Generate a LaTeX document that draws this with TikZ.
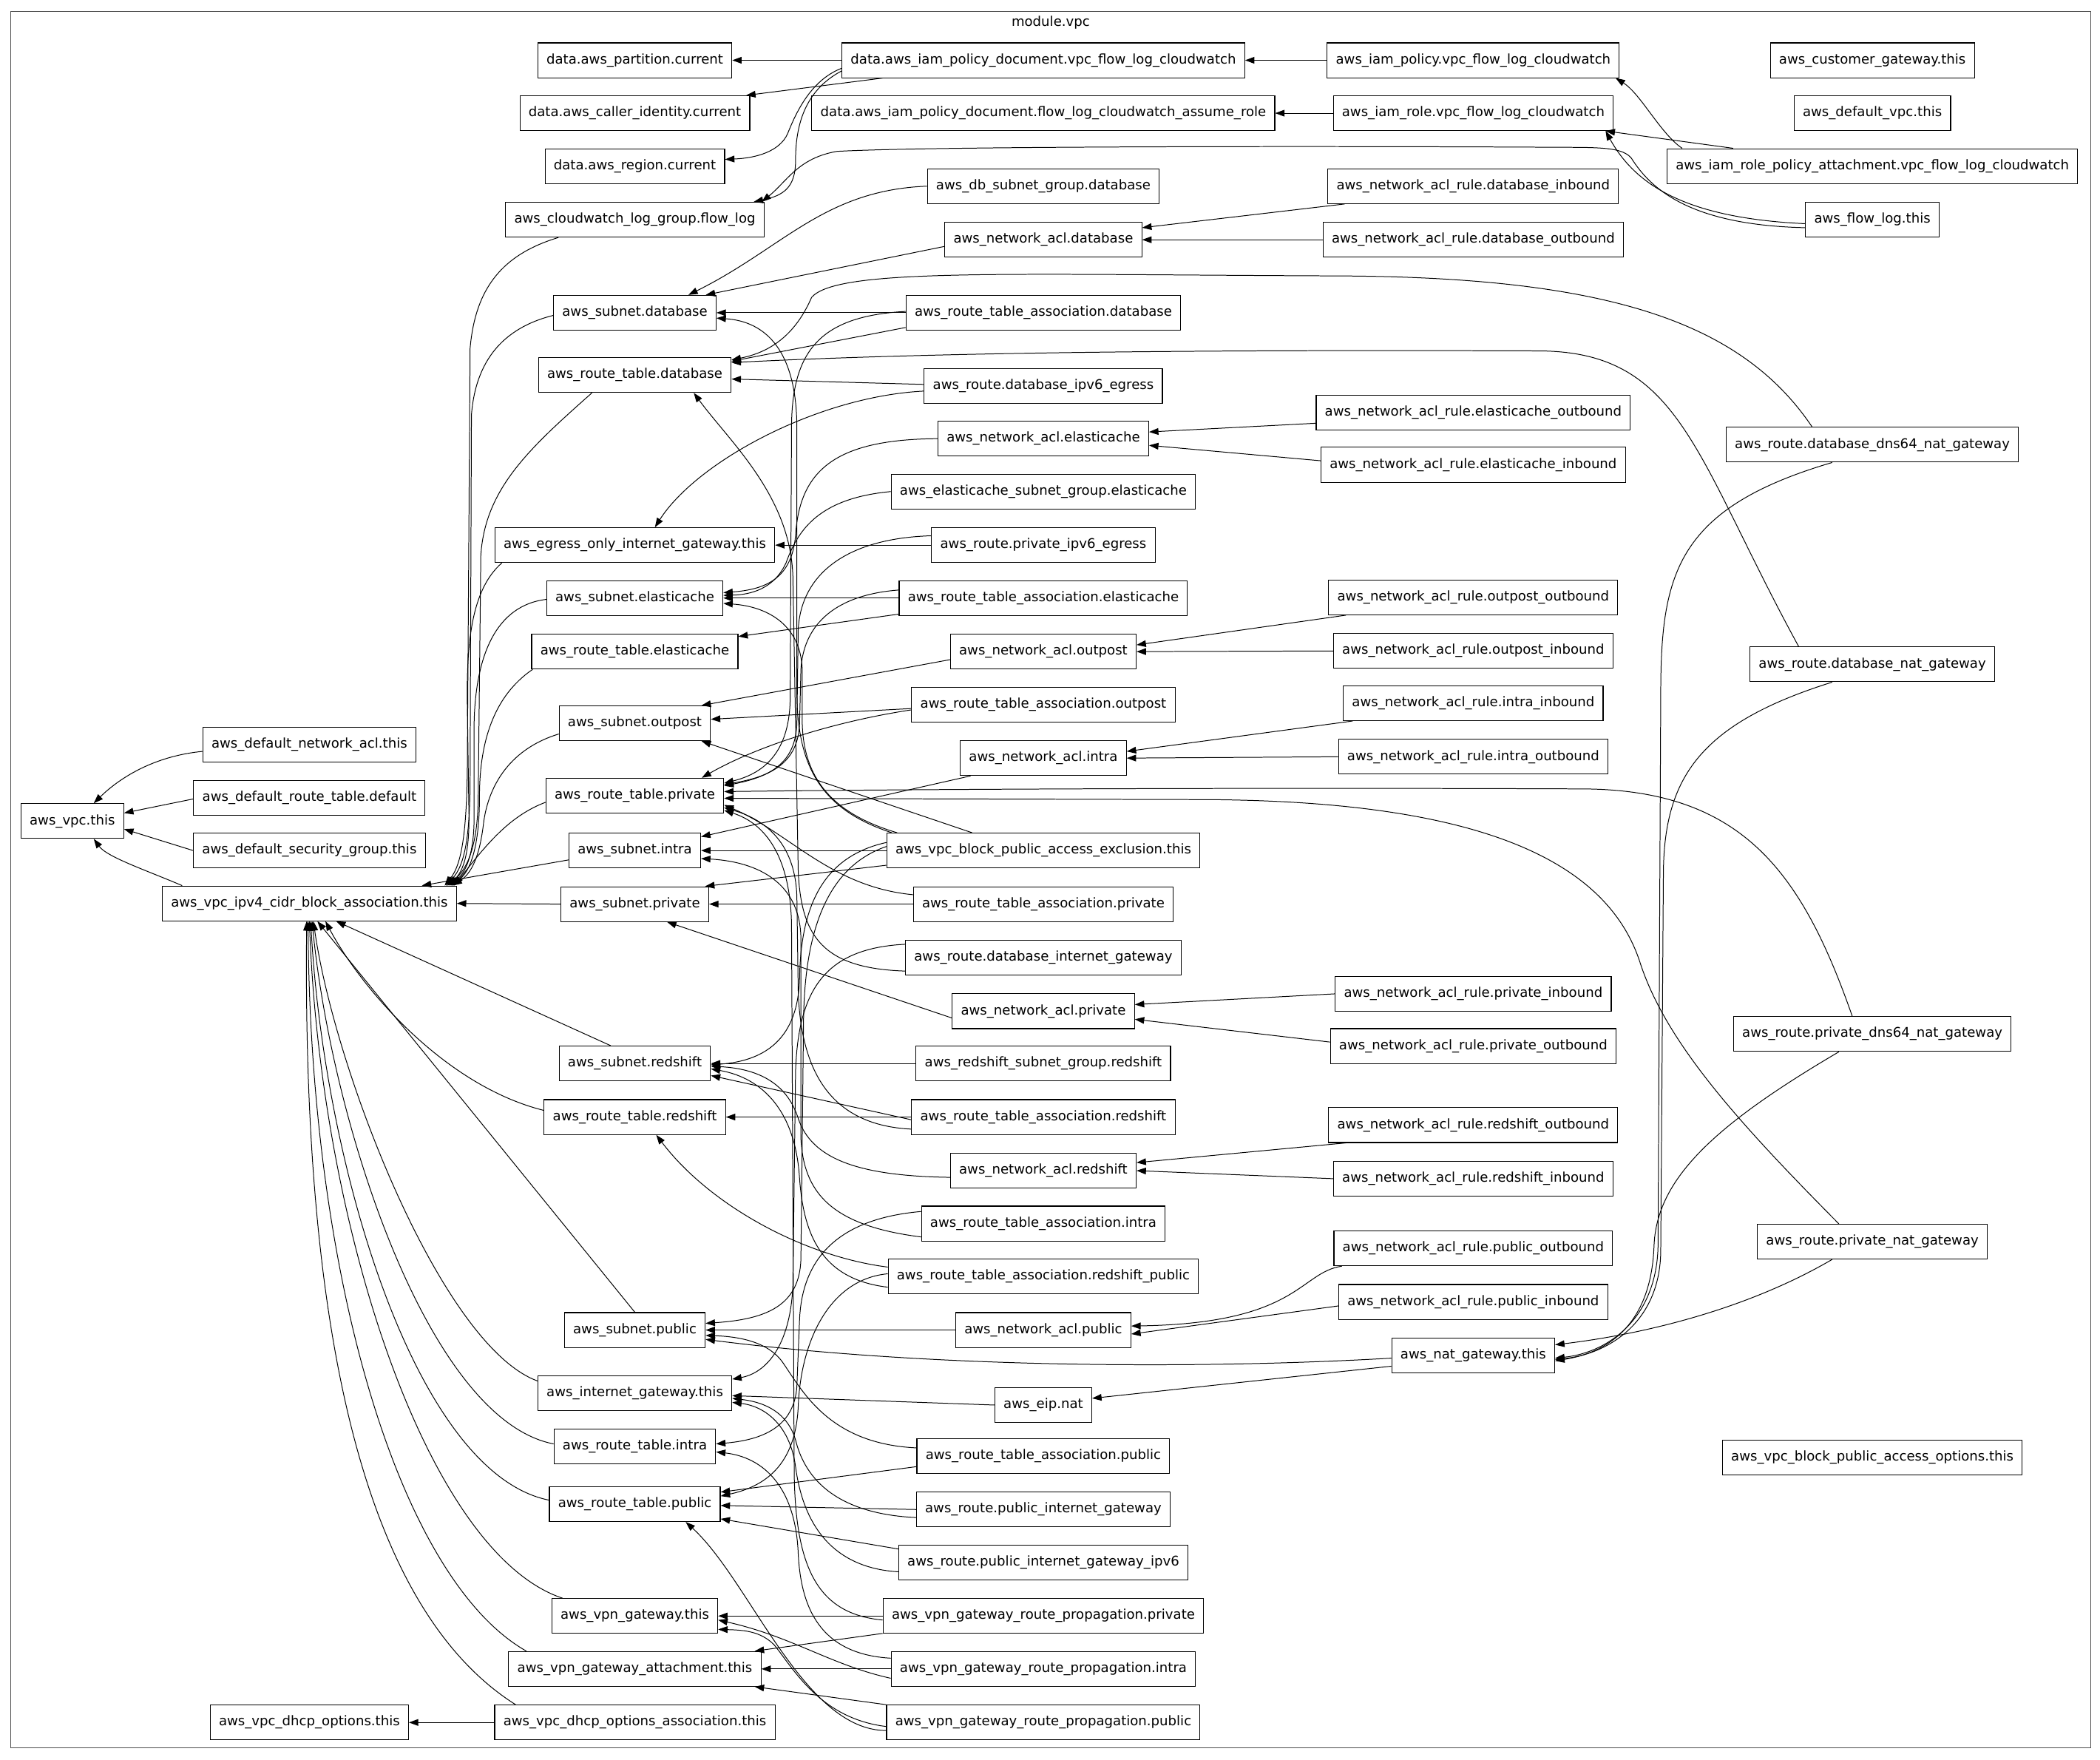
\documentclass[tikz,border=0pt]{standalone}
\usepackage{fontspec}
\setmainfont{DejaVu Sans}
\usetikzlibrary{arrows.meta}
\begin{document}
\begin{tikzpicture}[x=1pt,y=-1pt,
  box/.style={draw=black,line width=0.6pt,rectangle,minimum height=26pt,inner xsep=6.5pt,inner ysep=0pt,text height=7.6pt,text depth=2.4pt,font=\fontsize{10pt}{12pt}\selectfont},
  edge/.style={line width=0.55pt,line join=round,-{Triangle[length=7pt,width=5pt]}},
  dn/.style={yshift={0pt-(#1pt)}},
  rt/.style={xshift={#1pt}}]

\fill[white] (0,0) rectangle (1568,1314);
\useasboundingbox (0,0) rectangle (1568,1314);

% module cluster
\draw[black!70,line width=0.8pt] (8,8.5) rectangle (1561,1305);
\node[font=\fontsize{10pt}{12pt}\selectfont] (clabel) at (784.5,17) {module.vpc};

% ---- rank 5
\node[box] (vpc) at (54,613) {aws\_vpc.this};
% ---- rank 4
\node[box] (dnacl) at (231,556) {aws\_default\_network\_acl.this};
\node[box] (drt) at (231,595.5) {aws\_default\_route\_table.default};
\node[box] (dsg) at (231,635) {aws\_default\_security\_group.this};
\node[box] (ipv4) at (231,674.5) {aws\_vpc\_ipv4\_cidr\_block\_association.this};
\node[box] (dhcp) at (231,1286) {aws\_vpc\_dhcp\_options.this};
% ---- rank 3
\node[box] (part) at (474,45) {data.aws\_partition.current};
\node[box] (caller) at (474,84.5) {data.aws\_caller\_identity.current};
\node[box] (region) at (474,124) {data.aws\_region.current};
\node[box] (cwlg) at (474,164) {aws\_cloudwatch\_log\_group.flow\_log};
\node[box] (snDb) at (474,233.5) {aws\_subnet.database};
\node[box] (rtDb) at (474,280) {aws\_route\_table.database};
\node[box] (eoigw) at (474,407) {aws\_egress\_only\_internet\_gateway.this};
\node[box] (snEc) at (474,446.5) {aws\_subnet.elasticache};
\node[box] (rtEc) at (474,486.5) {aws\_route\_table.elasticache};
\node[box] (snOp) at (474,540) {aws\_subnet.outpost};
\node[box] (rtPr) at (474,594) {aws\_route\_table.private};
\node[box] (snIn) at (474,635) {aws\_subnet.intra};
\node[box] (snPr) at (474,675) {aws\_subnet.private};
\node[box] (snRs) at (474,794) {aws\_subnet.redshift};
\node[box] (rtRs) at (474,834) {aws\_route\_table.redshift};
\node[box] (snPu) at (474,993) {aws\_subnet.public};
\node[box] (igw) at (474,1040) {aws\_internet\_gateway.this};
\node[box] (rtIn) at (474,1080) {aws\_route\_table.intra};
\node[box] (rtPu) at (474,1123) {aws\_route\_table.public};
\node[box] (vgw) at (474,1206.5) {aws\_vpn\_gateway.this};
\node[box] (vgwa) at (474,1246) {aws\_vpn\_gateway\_attachment.this};
\node[box] (dhcpa) at (474,1286) {aws\_vpc\_dhcp\_options\_association.this};
% ---- rank 2
\node[box] (pdoc) at (779,45) {data.aws\_iam\_policy\_document.vpc\_flow\_log\_cloudwatch};
\node[box] (arDoc) at (779,84.5) {data.aws\_iam\_policy\_document.flow\_log\_cloudwatch\_assume\_role};
\node[box] (dbsg) at (779,139) {aws\_db\_subnet\_group.database};
\node[box] (naclDb) at (779,179) {aws\_network\_acl.database};
\node[box] (rtaDb) at (779,233.5) {aws\_route\_table\_association.database};
\node[box] (rDbVsix) at (779,288) {aws\_route.database\_ipv6\_egress};
\node[box] (naclEc) at (779,327.5) {aws\_network\_acl.elasticache};
\node[box] (ecsg) at (779,367) {aws\_elasticache\_subnet\_group.elasticache};
\node[box] (rPrVsix) at (779,407) {aws\_route.private\_ipv6\_egress};
\node[box] (rtaEc) at (779,446.5) {aws\_route\_table\_association.elasticache};
\node[box] (naclOp) at (779,486.5) {aws\_network\_acl.outpost};
\node[box] (rtaOp) at (779,526) {aws\_route\_table\_association.outpost};
\node[box] (naclIn) at (779,566) {aws\_network\_acl.intra};
\node[box] (excl) at (779,635) {aws\_vpc\_block\_public\_access\_exclusion.this};
\node[box] (rtaPr) at (779,675) {aws\_route\_table\_association.private};
\node[box] (rDbIgw) at (779,715) {aws\_route.database\_internet\_gateway};
\node[box] (naclPr) at (779,755) {aws\_network\_acl.private};
\node[box] (rssg) at (779,794) {aws\_redshift\_subnet\_group.redshift};
\node[box] (rtaRs) at (779,834) {aws\_route\_table\_association.redshift};
\node[box] (naclRs) at (779,874) {aws\_network\_acl.redshift};
\node[box] (rtaIn) at (779,913.5) {aws\_route\_table\_association.intra};
\node[box] (rtaRsPu) at (779,953) {aws\_route\_table\_association.redshift\_public};
\node[box] (naclPu) at (779,993) {aws\_network\_acl.public};
\node[box] (eip) at (779,1049) {aws\_eip.nat};
\node[box] (rtaPu) at (779,1087) {aws\_route\_table\_association.public};
\node[box] (rPuIgw) at (779,1127) {aws\_route.public\_internet\_gateway};
\node[box] (rPuIgwSix) at (779,1166.5) {aws\_route.public\_internet\_gateway\_ipv6};
\node[box] (vrpPr) at (779,1206.5) {aws\_vpn\_gateway\_route\_propagation.private};
\node[box] (vrpIn) at (779,1246) {aws\_vpn\_gateway\_route\_propagation.intra};
\node[box] (vrpPu) at (779,1286) {aws\_vpn\_gateway\_route\_propagation.public};
% ---- rank 1
\node[box] (iampol) at (1100,45) {aws\_iam\_policy.vpc\_flow\_log\_cloudwatch};
\node[box] (iamrole) at (1100,84.5) {aws\_iam\_role.vpc\_flow\_log\_cloudwatch};
\node[box] (rDbIn) at (1100,139) {aws\_network\_acl\_rule.database\_inbound};
\node[box] (rDbOut) at (1100,179) {aws\_network\_acl\_rule.database\_outbound};
\node[box] (rEcOut) at (1100,308) {aws\_network\_acl\_rule.elasticache\_outbound};
\node[box] (rEcIn) at (1100,347) {aws\_network\_acl\_rule.elasticache\_inbound};
\node[box] (rOpOut) at (1100,446) {aws\_network\_acl\_rule.outpost\_outbound};
\node[box] (rOpIn) at (1100,486) {aws\_network\_acl\_rule.outpost\_inbound};
\node[box] (rInIn) at (1100,525) {aws\_network\_acl\_rule.intra\_inbound};
\node[box] (rInOut) at (1100,565) {aws\_network\_acl\_rule.intra\_outbound};
\node[box] (rPrIn) at (1100,742) {aws\_network\_acl\_rule.private\_inbound};
\node[box] (rPrOut) at (1100,781) {aws\_network\_acl\_rule.private\_outbound};
\node[box] (rRsOut) at (1100,840) {aws\_network\_acl\_rule.redshift\_outbound};
\node[box] (rRsIn) at (1100,880) {aws\_network\_acl\_rule.redshift\_inbound};
\node[box] (rPuOut) at (1100,932) {aws\_network\_acl\_rule.public\_outbound};
\node[box] (rPuIn) at (1100,972) {aws\_network\_acl\_rule.public\_inbound};
\node[box] (nat) at (1100,1012) {aws\_nat\_gateway.this};
% ---- rank 0
\node[box] (cgw) at (1398,45) {aws\_customer\_gateway.this};
\node[box] (dvpc) at (1398,84.5) {aws\_default\_vpc.this};
\node[box] (rpa) at (1398,124) {aws\_iam\_role\_policy\_attachment.vpc\_flow\_log\_cloudwatch};
\node[box] (flog) at (1398,164) {aws\_flow\_log.this};
\node[box] (rDbDns) at (1398,332) {aws\_route.database\_dns64\_nat\_gateway};
\node[box] (rDbNat) at (1398,496) {aws\_route.database\_nat\_gateway};
\node[box] (rPrDns) at (1398,772) {aws\_route.private\_dns64\_nat\_gateway};
\node[box] (rPrNat) at (1398,927) {aws\_route.private\_nat\_gateway};
\node[box] (bpao) at (1398,1088) {aws\_vpc\_block\_public\_access\_options.this};

% ================= connectors
% default resources and the CIDR association to the VPC
\draw[edge] ([dn=5]dnacl.west) .. controls (110,565) and (85,585) .. ([rt=16]vpc.north);
\draw[edge] ([dn=1]drt.west) -- ([dn=-6]vpc.east);
\draw[edge] (dsg.west) -- ([dn=6]vpc.east);
\draw[edge] ([rt=-95]ipv4.north) .. controls (110,650) and (80,640) .. ([rt=16]vpc.south);

% upper bundle into the CIDR association
\draw[edge] ([rt=-57]cwlg.south) .. controls (375,190) and (355,215) .. (351,260) -- (349,560) .. controls (349,620) and (345,645) .. ([rt=101]ipv4.north);
\draw[edge] ([dn=2]snDb.west) .. controls (375,245) and (355,270) .. (352,310) -- (351,580) .. controls (351,625) and (347,646) .. ([rt=102]ipv4.north);
\draw[edge] ([rt=-32]rtDb.south) .. controls (395,335) and (362,365) .. (359,415) -- (357,600) .. controls (356,630) and (350,648) .. ([rt=103]ipv4.north);
\draw[edge] ([rt=5.5]eoigw.south west) .. controls (352,440) and (348,480) .. (349,530) -- (350,600) .. controls (351,630) and (348,648) .. ([rt=104]ipv4.north);
\draw[edge] ([dn=1]snEc.west) .. controls (370,452) and (355,490) .. (354,540) -- (354,610) .. controls (354,635) and (349,650) .. ([rt=105]ipv4.north);
\draw[edge] ([rt=1]rtEc.south west) .. controls (368,520) and (358,555) .. (358,595) .. controls (358,630) and (352,650) .. ([rt=106]ipv4.north);
\draw[edge] ([dn=8]snOp.west) .. controls (378,560) and (364,590) .. (361,615) .. controls (358,640) and (352,652) .. ([rt=107]ipv4.north);
\draw[edge] ([dn=5]rtPr.west) .. controls (378,610) and (360,635) .. ([rt=108]ipv4.north);
\draw[edge] ([dn=7]snIn.west) -- ([rt=84]ipv4.north);
\draw[edge] (snPr.west) -- (ipv4.east);

% lower bundle into the CIDR association
\draw[edge] ([rt=-18]snRs.north) -- ([rt=20]ipv4.south);
\draw[edge] ([dn=-5]rtRs.west) .. controls (330,810) and (268,735) .. ([rt=12]ipv4.south);
\draw[edge] (snPu.north) -- ([rt=6]ipv4.south);
\draw[edge] ([dn=-9]igw.west) .. controls (330,1005) and (250,800) .. ([rt=3]ipv4.south);
\draw[edge] ([dn=-2]rtIn.west) .. controls (320,1060) and (248,840) .. ([rt=2]ipv4.south);
\draw[edge] ([dn=-3]rtPu.west) .. controls (310,1100) and (242,870) .. ([rt=1]ipv4.south);
\draw[edge] ([rt=-54]vgw.north) .. controls (320,1160) and (240,920) .. (ipv4.south);
\draw[edge] ([rt=-81]vgwa.north) .. controls (300,1180) and (232,960) .. ([rt=-1]ipv4.south);
\draw[edge] ([rt=-89]dhcpa.north) .. controls (270,1200) and (226,990) .. ([rt=-2]ipv4.south);
\draw[edge] (dhcpa.west) -- (dhcp.east);

% flow log and IAM
\draw[edge] (pdoc.west) -- (part.east);
\draw[edge] ([rt=-120]pdoc.south) -- ([rt=-3]caller.north east);
\draw[edge] ([dn=6]pdoc.west) .. controls (605,60) and (594,85) .. (588,100) .. controls (582,113) and (565,118) .. ([dn=-5]region.east);
\draw[edge] ([dn=8]pdoc.west) .. controls (600,68) and (594,95) .. (594,120) .. controls (594,140) and (585,146) .. ([rt=-8]cwlg.north east);
\draw[edge] (iampol.west) -- (pdoc.east);
\draw[edge] (iamrole.west) -- (arDoc.east);
\draw[edge] ([rt=-142]rpa.north) .. controls (1240,100) and (1225,70) .. ([rt=-3]iampol.south east);
\draw[edge] ([rt=-104]rpa.north) -- ([rt=-6]iamrole.south east);
\draw[edge] ([dn=3]flog.west) .. controls (1262,163) and (1222,140) .. ([rt=-6]iamrole.south east);
\draw[edge] ([dn=6]flog.west) .. controls (1260,168) and (1232,140) .. (1218,118) .. controls (1212,111) and (1200,110) .. (1170,110) .. controls (1000,109) and (700,109) .. (625,113) .. controls (596,118) and (588,135) .. ([rt=-2]cwlg.north east);

% database tier
\draw[edge] (dbsg.west) .. controls (615,142) and (585,185) .. ([rt=40]snDb.north);
\draw[edge] ([dn=5]naclDb.west) -- ([rt=-8]snDb.north east);
\draw[edge] (rtaDb.west) -- (snDb.east);
\draw[edge] ([dn=11]rtaDb.west) -- ([dn=3]rtDb.north east);
\draw[edge] ([dn=-1]rtaDb.west) .. controls (612,236) and (591,262) .. (591,320) -- (590,520) .. controls (590,560) and (572,577) .. ([dn=4]rtPr.north east);
\draw[edge] ([rt=4]excl.north west) .. controls (615,605) and (596,575) .. (595,520) -- (595,320) .. controls (595,262) and (572,240) .. ([dn=4]snDb.east);
\draw[edge] ([dn=-1]rDbVsix.west) -- ([dn=3]rtDb.east);
\draw[edge] ([dn=4]rDbVsix.west) .. controls (610,296) and (520,345) .. ([rt=15]eoigw.north);
\draw[edge] ([rt=-45]rDbDns.north) .. controls (1300,240) and (1200,207) .. (1000,206) .. controls (750,205) and (625,200) .. (606,222) .. controls (596,245) and (580,262) .. ([dn=2]rtDb.north east);
\draw[edge] ([rt=-55]rDbNat.north) .. controls (1265,340) and (1255,263) .. (1150,262) .. controls (900,261) and (700,263) .. ([dn=4]rtDb.north east);
\draw[edge] ([dn=10]rDbIgw.west) .. controls (615,723) and (598,700) .. (596,650) -- (592,430) .. controls (590,370) and (545,330) .. ([rt=44]rtDb.south);
\draw[edge] ([dn=-10]rDbIgw.west) .. controls (615,708) and (596,740) .. (594,800) -- (592,960) .. controls (590,1005) and (572,1025) .. ([dn=3]igw.north east);

% elasticache tier
\draw[edge] (naclEc.west) .. controls (625,328) and (597,350) .. (594,400) .. controls (591,432) and (572,440) .. ([dn=-4]snEc.east);
\draw[edge] (ecsg.west) .. controls (612,372) and (596,395) .. (587,420) .. controls (578,440) and (560,444) .. ([dn=-2]snEc.east);
\draw[edge] (rtaEc.west) -- (snEc.east);
\draw[edge] ([dn=12]rtaEc.west) -- ([dn=2]rtEc.north east);
\draw[edge] ([dn=-6]rtaEc.west) .. controls (625,444) and (600,465) .. (598,500) -- (597,540) .. controls (596,570) and (575,580) .. ([dn=5]rtPr.north east);
\draw[edge] ([rt=8]excl.north west) .. controls (620,607) and (600,580) .. (599,540) -- (599,500) .. controls (598,468) and (575,453) .. ([dn=4]snEc.east);
\draw[edge] (rPrVsix.west) -- (eoigw.east);
\draw[edge] ([dn=-7]rPrVsix.west) .. controls (630,402) and (598,430) .. (596,470) -- (595,540) .. controls (594,570) and (575,580) .. ([dn=6]rtPr.north east);

% outpost, intra, private tiers
\draw[edge] ([dn=6]naclOp.west) -- ([rt=-7]snOp.north east);
\draw[edge] ([dn=3]rtaOp.west) -- ([dn=-3]snOp.east);
\draw[edge] ([dn=4]rtaOp.west) .. controls (615,540) and (560,560) .. ([rt=50]rtPr.north);
\draw[edge] ([rt=8]naclIn.south west) -- ([dn=3]snIn.north east);
\draw[edge] ([rt=64]excl.north west) -- ([rt=-7]snOp.south east);
\draw[edge] (excl.west) -- (snIn.east);
\draw[edge] ([dn=11]excl.west) -- ([rt=-3]snPr.north east);
\draw[edge] (rtaPr.west) -- (snPr.east);
\draw[edge] ([dn=-7]rtaPr.west) .. controls (620,662) and (590,622) .. ([dn=7]rtPr.east);
\draw[edge] ([dn=5]naclPr.west) -- ([rt=24]snPr.south);
\draw[edge] ([rt=-15]rPrDns.north) .. controls (1345,650) and (1300,589) .. (1180,589) .. controls (950,588) and (700,589) .. ([dn=-3]rtPr.east);
\draw[edge] ([rt=-25]rPrNat.north) .. controls (1300,840) and (1245,780) .. (1225,720) .. controls (1200,640) and (1100,598) .. (900,597) -- ([dn=2]rtPr.east);

% redshift tier
\draw[edge] (rssg.west) -- (snRs.east);
\draw[edge] ([dn=2]rtaRs.west) -- ([dn=9]snRs.east);
\draw[edge] (rtaRs.west) -- (rtRs.east);
\draw[edge] ([dn=9]rtaRs.west) .. controls (620,840) and (598,800) .. (596,740) -- (595,670) .. controls (594,630) and (572,612) .. ([dn=9]rtPr.east);
\draw[edge] ([dn=5]naclRs.west) .. controls (640,878) and (606,865) .. (596,835) .. controls (588,810) and (568,798) .. ([dn=2]snRs.east);
\draw[edge] ([dn=-6]excl.west) .. controls (612,640) and (598,680) .. (597,730) .. controls (596,775) and (572,792) .. ([dn=1]snRs.east);
\draw[edge] ([dn=-3]excl.west) .. controls (615,648) and (601,700) .. (600,760) -- (598,940) .. controls (597,975) and (572,985) .. ([dn=-5]snPu.east);
\draw[edge] ([dn=10]rtaIn.west) .. controls (620,915) and (600,890) .. (598,850) -- (598,700) .. controls (597,655) and (560,643) .. ([dn=6]snIn.east);
\draw[edge] ([dn=-9]rtaIn.west) .. controls (625,910) and (599,940) .. (597,985) -- (595,1035) .. controls (593,1065) and (570,1075) .. ([dn=-2]rtIn.east);
\draw[edge] ([dn=8]rtaRsPu.west) .. controls (612,955) and (600,920) .. (597,880) .. controls (594,830) and (570,805) .. ([dn=4]snRs.east);
\draw[edge] ([dn=-7]rtaRsPu.west) .. controls (600,938) and (530,900) .. ([rt=16]rtRs.south);
\draw[edge] ([dn=-2]rtaRsPu.west) .. controls (620,955) and (598,1000) .. (596,1050) .. controls (594,1095) and (570,1110) .. ([dn=-6]rtPu.east);

% public tier, NAT and internet gateway
\draw[edge] (naclPu.west) -- (snPu.east);
\draw[edge] ([dn=2]nat.west) .. controls (900,1022) and (700,1022) .. ([dn=7]snPu.east);
\draw[edge] ([dn=-6]rtaPu.west) .. controls (620,1078) and (600,1040) .. (585,1018) .. controls (575,1003) and (555,998) .. ([dn=4]snPu.east);
\draw[edge] ([dn=8]rtaPu.west) -- ([dn=-9]rtPu.east);
\draw[edge] (eip.west) -- ([dn=2]igw.east);
\draw[edge] ([dn=8]nat.west) -- ([dn=-5]eip.east);
\draw[edge] (rPuIgw.west) -- ([dn=1]rtPu.east);
\draw[edge] ([dn=6]rPuIgw.west) .. controls (620,1130) and (600,1100) .. (594,1075) .. controls (588,1055) and (572,1047) .. ([dn=4]igw.east);
\draw[edge] ([dn=-10]rPuIgwSix.west) -- ([dn=11]rtPu.east);
\draw[edge] ([dn=7]rPuIgwSix.west) .. controls (612,1170) and (598,1125) .. (594,1095) .. controls (590,1065) and (572,1050) .. ([dn=7]igw.east);

% VPN gateway route propagation
\draw[edge] (vrpPr.west) -- (vgw.east);
\draw[edge] ([dn=13]vrpPr.west) -- ([rt=-5]vgwa.north east);
\draw[edge] ([dn=3]vrpPr.west) .. controls (610,1205) and (594,1170) .. (593,1100) -- (591,690) .. controls (590,640) and (572,615) .. ([dn=11]rtPr.east);
\draw[edge] ([dn=7]vrpIn.west) .. controls (620,1243) and (592,1222) .. ([dn=3]vgw.east);
\draw[edge] (vrpIn.west) -- (vgwa.east);
\draw[edge] ([dn=-8]vrpIn.west) .. controls (612,1235) and (598,1200) .. (596,1160) .. controls (594,1110) and (570,1088) .. ([dn=4]rtIn.east);
\draw[edge] ([dn=3]vrpPu.west) .. controls (612,1283) and (592,1245) .. (578,1228) .. controls (568,1218) and (556,1217) .. ([dn=10]vgw.east);
\draw[edge] (vrpPu.north west) -- ([rt=-5]vgwa.south east);
\draw[edge] ([dn=6]vrpPu.west) .. controls (600,1292) and (560,1180) .. ([rt=38]rtPu.south);

% network ACL rules
\draw[edge] ([rt=-96]rDbIn.south) -- ([dn=-9]naclDb.east);
\draw[edge] (rDbOut.west) -- (naclDb.east);
\draw[edge] ([dn=8]rEcOut.west) -- ([dn=-5]naclEc.east);
\draw[edge] ([dn=-3]rEcIn.west) -- ([dn=5]naclEc.east);
\draw[edge] ([rt=-95]rOpOut.south) -- ([dn=-5]naclOp.east);
\draw[edge] (rOpIn.west) -- (naclOp.east);
\draw[edge] ([rt=-90]rInIn.south) -- ([dn=-5]naclIn.east);
\draw[edge] (rInOut.west) -- (naclIn.east);
\draw[edge] (rPrIn.west) -- ([dn=-5]naclPr.east);
\draw[edge] ([dn=-3]rPrOut.west) -- ([dn=6]naclPr.east);
\draw[edge] ([rt=-95]rRsOut.south) -- ([dn=-6]naclRs.east);
\draw[edge] (rRsIn.west) -- (naclRs.east);
\draw[edge] ([rt=-98]rPuOut.south) .. controls (970,950) and (970,988) .. ([dn=-3]naclPu.east);
\draw[edge] ([dn=3]rPuIn.west) -- ([dn=3]naclPu.east);

% NAT routes
\draw[edge] ([rt=-30]rDbDns.south) .. controls (1250,380) and (1240,430) .. (1240,520) -- (1238,930) .. controls (1237,985) and (1200,1010) .. ([dn=2]nat.east);
\draw[edge] ([rt=-30]rDbNat.south) .. controls (1270,540) and (1243,580) .. (1242,650) -- (1240,935) .. controls (1239,988) and (1200,1011) .. ([dn=3]nat.east);
\draw[edge] ([rt=-25]rPrDns.south) .. controls (1280,840) and (1237,880) .. (1235,930) .. controls (1233,985) and (1205,1009) .. ([dn=4]nat.east);
\draw[edge] ([rt=-30]rPrNat.south) .. controls (1300,980) and (1220,997) .. ([dn=-8]nat.east);
\end{tikzpicture}
\end{document}
